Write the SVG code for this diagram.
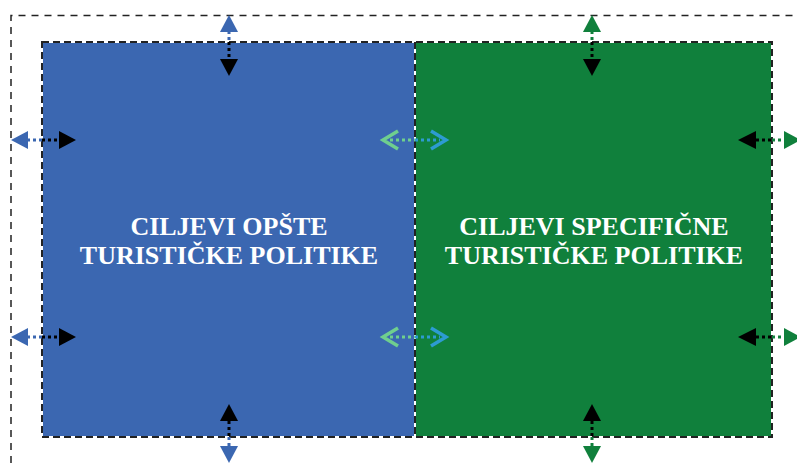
<svg xmlns="http://www.w3.org/2000/svg" width="797" height="463" viewBox="0 0 797 463">
<style>
.lbl{font-family:"Liberation Serif","Times New Roman",serif;font-weight:bold;font-size:26px;fill:#fff;text-anchor:middle}
.dot{stroke-width:3;stroke-dasharray:3 3;fill:none}
.k{stroke:#000}.b{stroke:#3b67b1}.g{stroke:#10803c}.lg{stroke:#6fcf8e}.t{stroke:#2d9bd2}
</style>
<rect width="797" height="463" fill="#fff"/>
<path d="M11,463 V15.5 H800" fill="none" stroke="#222" stroke-width="1.5" stroke-dasharray="7 6"/>
<g id="node-opste">
<rect x="42" y="42" width="373" height="395" fill="#3b67b1"/>
<text class="lbl" x="229" y="235">CILJEVI OPŠTE</text>
<text class="lbl" x="229" y="264">TURISTIČKE POLITIKE</text>
</g>
<g id="node-specificne">
<rect x="415" y="42" width="357" height="395" fill="#10803c"/>
<text class="lbl" x="594" y="235">CILJEVI SPECIFIČNE</text>
<text class="lbl" x="594" y="264">TURISTIČKE POLITIKE</text>
</g>
<g id="borders" fill="none">
<rect x="42" y="42" width="730" height="395" stroke="#fff" stroke-width="2"/>
<rect x="42" y="42" width="730" height="395" stroke="#222" stroke-width="2" stroke-dasharray="7 4"/>
<line x1="415" y1="42" x2="415" y2="437" stroke="#fff" stroke-width="2"/>
<line x1="415" y1="42" x2="415" y2="437" stroke="#222" stroke-width="2" stroke-dasharray="7 4"/>
</g>
<g id="connectors">
<path class="dot b" d="M229,31 V42"/><path class="dot k" d="M229,42 V59"/>
<polygon points="229,15 220,32 238,32" fill="#3b67b1"/>
<polygon points="229,76 220,59 238,59" fill="#000"/>
<path class="dot k" d="M229,421 V437"/><path class="dot b" d="M229,437 V447"/>
<polygon points="229,404 220,421 238,421" fill="#000"/>
<polygon points="229,463 220,446 238,446" fill="#3b67b1"/>
<path class="dot g" d="M592,31 V42"/><path class="dot k" d="M592,42 V59"/>
<polygon points="592,15 583,32 601,32" fill="#10803c"/>
<polygon points="592,76 583,59 601,59" fill="#000"/>
<path class="dot k" d="M592,421 V437"/><path class="dot g" d="M592,437 V447"/>
<polygon points="592,404 583,421 601,421" fill="#000"/>
<polygon points="592,463 583,446 601,446" fill="#10803c"/>
<g>
<path class="dot b" d="M27,140 H42"/><path class="dot k" d="M42,140 H59"/>
<polygon points="11,140 28,131 28,149" fill="#3b67b1"/>
<polygon points="76,140 59,131 59,149" fill="#000"/>
</g>
<g>
<path class="dot b" d="M27,337 H42"/><path class="dot k" d="M42,337 H59"/>
<polygon points="11,337 28,328 28,346" fill="#3b67b1"/>
<polygon points="76,337 59,328 59,346" fill="#000"/>
</g>
<g>
<path class="dot k" d="M756,140 H772"/><path class="dot g" d="M772,140 H784"/>
<polygon points="738,140 756,131 756,149" fill="#000"/>
<polygon points="801,140 784,131 784,149" fill="#10803c"/>
</g>
<g>
<path class="dot k" d="M756,337 H772"/><path class="dot g" d="M772,337 H784"/>
<polygon points="738,337 756,328 756,346" fill="#000"/>
<polygon points="801,337 784,328 784,346" fill="#10803c"/>
</g>
<g>
<path class="dot lg" d="M390,140 H415"/><path class="dot t" d="M415,140 H440"/>
<polyline points="398,131 383,140 398,149" fill="none" stroke="#6fcf8e" stroke-width="3.5"/>
<polyline points="431,131 446,140 431,149" fill="none" stroke="#2d9bd2" stroke-width="3.5"/>
</g>
<g>
<path class="dot lg" d="M390,337 H415"/><path class="dot t" d="M415,337 H440"/>
<polyline points="398,328 383,337 398,346" fill="none" stroke="#6fcf8e" stroke-width="3.5"/>
<polyline points="431,328 446,337 431,346" fill="none" stroke="#2d9bd2" stroke-width="3.5"/>
</g>
</g>
</svg>
